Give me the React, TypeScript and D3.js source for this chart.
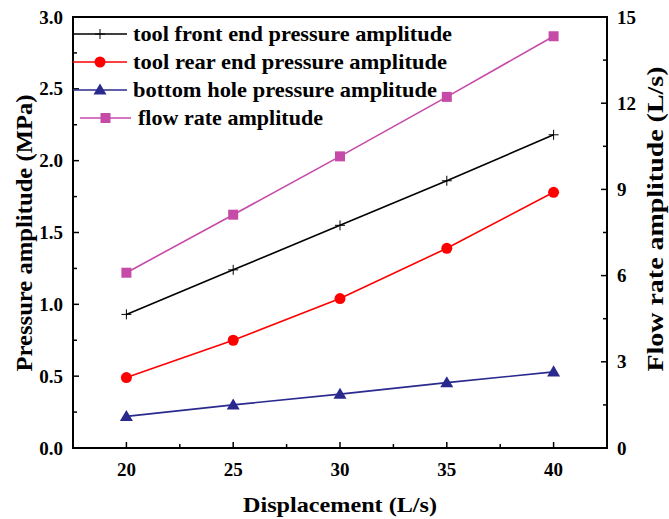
import React from "react";
import * as d3 from "d3";

const displacement = [20, 25, 30, 35, 40];
const frontPressure = [0.93, 1.24, 1.55, 1.86, 2.18];
const rearPressure = [0.49, 0.75, 1.04, 1.39, 1.78];
const bottomPressure = [0.22, 0.3, 0.375, 0.455, 0.53];
const flowRate = [6.1, 8.12, 10.15, 12.22, 14.33];

const xTicks = [20, 25, 30, 35, 40];
const xMinor = [17.5, 22.5, 27.5, 32.5, 37.5, 42.5];
const yLeftTicks = [0, 0.5, 1.0, 1.5, 2.0, 2.5, 3.0];
const yLeftMinor = [0.25, 0.75, 1.25, 1.75, 2.25, 2.75];
const yRightTicks = [0, 3, 6, 9, 12, 15];
const yRightMinor = [1.5, 4.5, 7.5, 10.5, 13.5];

const legendLabels = [
  "tool front end pressure amplitude",
  "tool rear end pressure amplitude",
  "bottom hole pressure amplitude",
  "flow rate amplitude",
];

const W = 669, H = 519;
const L = 73, R = 607, T = 17, B = 448;
const FONT = "'Liberation Serif', 'Times New Roman', serif";

const BLACK = "#000000";
const RED = "#ff0000";
const NAVY = "#2a2a8e";
const MAG = "#c64aa8";

function Marker({ type, x, y, color }: { type: string; x: number; y: number; color: string }) {
  if (type === "plus") {
    return (
      <g stroke={color} strokeWidth={1}>
        <line x1={x - 5} x2={x + 5} y1={y} y2={y} />
        <line x1={x} x2={x} y1={y - 5} y2={y + 5} />
      </g>
    );
  }
  if (type === "circle") return <circle cx={x} cy={y} r={5.5} fill={color} />;
  if (type === "tri") {
    const s = 6.5;
    return <path d={`M${x},${y - s}L${x + s},${y + s * 0.7}L${x - s},${y + s * 0.7}Z`} fill={color} />;
  }
  return <rect x={x - 5} y={y - 5} width={10} height={10} fill={color} />;
}

export default function App() {
  const x = d3.scaleLinear().domain([17.5, 42.5]).range([L, R]);
  const yL = d3.scaleLinear().domain([0, 3]).range([B, T]);
  const yR = d3.scaleLinear().domain([0, 15]).range([B, T]);

  const series = [
    { vals: frontPressure, y: yL, color: BLACK, m: "plus" },
    { vals: rearPressure, y: yL, color: RED, m: "circle" },
    { vals: bottomPressure, y: yL, color: NAVY, m: "tri" },
    { vals: flowRate, y: yR, color: MAG, m: "square" },
  ];

  const legendRows = [
    { x1: 73, x2: 127, tx: 133, y: 34, len: 319 },
    { x1: 73, x2: 127, tx: 133, y: 62, len: 314 },
    { x1: 73, x2: 127, tx: 133, y: 90, len: 304 },
    { x1: 80, x2: 131, tx: 138, y: 118, len: 185 },
  ];

  return (
    <svg width={W} height={H} style={{ position: "absolute", left: 0, top: 0 }} fontFamily={FONT}>
      <rect x={0} y={0} width={W} height={H} fill="#fff" />
      {series.map((s, i) => {
        const line = d3
          .line<number>()
          .x((_, j) => x(displacement[j]))
          .y((v) => s.y(v));
        return (
          <g key={i}>
            <path d={line(s.vals) || ""} fill="none" stroke={s.color} strokeWidth={1.6} />
            {s.vals.map((v, j) => (
              <Marker key={j} type={s.m} x={x(displacement[j])} y={s.y(v)} color={s.color} />
            ))}
          </g>
        );
      })}
      {/* frame */}
      <rect x={L} y={T} width={R - L} height={B - T} fill="none" stroke="#000" strokeWidth={2} />
      {/* x ticks */}
      {xTicks.map((t) => (
        <g key={t}>
          <line x1={x(t)} x2={x(t)} y1={B} y2={B - 6} stroke="#000" strokeWidth={1.5} />
          <text x={x(t)} y={476} textAnchor="middle" fontSize={19} fontWeight="bold">{t}</text>
        </g>
      ))}
      {xMinor.map((t) => (
        <line key={t} x1={x(t)} x2={x(t)} y1={B} y2={B - 4} stroke="#000" strokeWidth={1.5} />
      ))}
      {/* left ticks */}
      {yLeftTicks.map((t) => (
        <g key={t}>
          <line x1={L} x2={L + 6} y1={yL(t)} y2={yL(t)} stroke="#000" strokeWidth={1.5} />
          <text x={63} y={yL(t) + 6.5} textAnchor="end" fontSize={19} fontWeight="bold">{t.toFixed(1)}</text>
        </g>
      ))}
      {yLeftMinor.map((t) => (
        <line key={t} x1={L} x2={L + 4} y1={yL(t)} y2={yL(t)} stroke="#000" strokeWidth={1.5} />
      ))}
      {/* right ticks */}
      {yRightTicks.map((t) => (
        <g key={t}>
          <line x1={R} x2={R - 6} y1={yR(t)} y2={yR(t)} stroke="#000" strokeWidth={1.5} />
          <text x={617} y={yR(t) + 6.5} textAnchor="start" fontSize={19} fontWeight="bold">{t}</text>
        </g>
      ))}
      {yRightMinor.map((t) => (
        <line key={t} x1={R} x2={R - 4} y1={yR(t)} y2={yR(t)} stroke="#000" strokeWidth={1.5} />
      ))}
      {/* axis titles */}
      <text x={340} y={512} textAnchor="middle" fontSize={22} fontWeight="bold"
        textLength={194} lengthAdjust="spacingAndGlyphs">Displacement (L/s)</text>
      <text transform={`translate(32,233) rotate(-90)`} textAnchor="middle" fontSize={23} fontWeight="bold"
        textLength={277} lengthAdjust="spacingAndGlyphs">
        Pressure amplitude (MPa)
      </text>
      <text transform={`translate(663,219) rotate(-90)`} textAnchor="middle" fontSize={23} fontWeight="bold"
        textLength={305} lengthAdjust="spacingAndGlyphs">
        Flow rate amplitude (L/s)
      </text>
      {/* legend */}
      {legendRows.map((r, i) => {
        const s = series[i];
        return (
          <g key={i}>
            <line x1={r.x1} x2={r.x2} y1={r.y} y2={r.y} stroke={s.color} strokeWidth={1.6} />
            <Marker type={s.m} x={(r.x1 + r.x2) / 2} y={r.y} color={s.color} />
            <text x={r.tx} y={r.y + 7} fontSize={21} fontWeight="bold"
              textLength={r.len} lengthAdjust="spacingAndGlyphs">{legendLabels[i]}</text>
          </g>
        );
      })}
    </svg>
  );
}
